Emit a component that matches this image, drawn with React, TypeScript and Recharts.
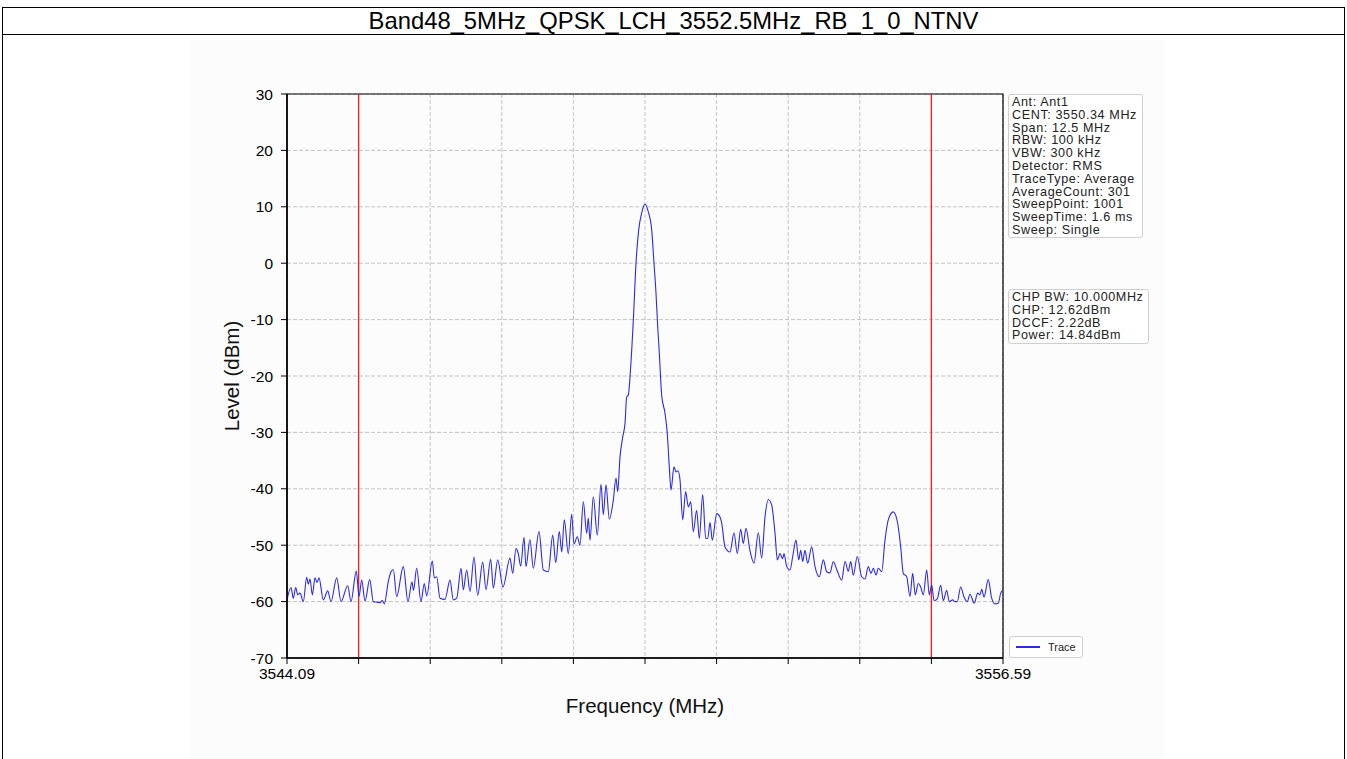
import { LineChart, CartesianGrid, XAxis, YAxis, Line, ReferenceLine, ReferenceArea } from 'recharts'

const TITLE = 'Band48_5MHz_QPSK_LCH_3552.5MHz_RB_1_0_NTNV'

// frequency (MHz) of each trace point
const freqs = [
  3544.09, 3544.16, 3544.2, 3544.242, 3544.277, 3544.317, 3544.375, 3544.434, 3544.462, 3544.492,
  3544.532, 3544.579, 3544.614, 3544.649, 3544.724, 3544.801, 3544.858, 3544.958, 3545.033, 3545.15,
  3545.207, 3545.3, 3545.347, 3545.394, 3545.452, 3545.534, 3545.597, 3545.661, 3545.714, 3545.754,
  3545.789, 3545.859, 3545.906, 3545.946, 3546.005, 3546.12, 3546.202, 3546.272, 3546.298, 3546.354,
  3546.429, 3546.487, 3546.529, 3546.627, 3546.662, 3546.703, 3546.761, 3546.848, 3546.936, 3546.993,
  3547.053, 3547.128, 3547.168, 3547.227, 3547.285, 3547.355, 3547.419, 3547.507, 3547.564, 3547.646,
  3547.692, 3547.768, 3547.861, 3547.983, 3548.03, 3548.088, 3548.128, 3548.17, 3548.228, 3548.262,
  3548.332, 3548.39, 3548.489, 3548.565, 3548.652, 3548.729, 3548.781, 3548.844, 3548.886, 3548.931,
  3549.001, 3549.06, 3549.1, 3549.158, 3549.205, 3549.263, 3549.322, 3549.35, 3549.38, 3549.437,
  3549.507, 3549.572, 3549.612, 3549.659, 3549.717, 3549.787, 3549.834, 3549.863, 3549.904, 3549.951,
  3549.991, 3550.02, 3550.048, 3550.09, 3550.136, 3550.183, 3550.23, 3550.282, 3550.34, 3550.398,
  3550.457, 3550.497, 3550.532, 3550.562, 3550.59, 3550.631, 3550.689, 3550.729, 3550.764, 3550.794,
  3550.846, 3550.881, 3550.916, 3550.951, 3550.998, 3551.05, 3551.096, 3551.138, 3551.183, 3551.242,
  3551.288, 3551.347, 3551.4, 3551.435, 3551.475, 3551.515, 3551.592, 3551.649, 3551.679, 3551.737,
  3551.824, 3551.894, 3551.951, 3552.011, 3552.056, 3552.103, 3552.173, 3552.243, 3552.318, 3552.377,
  3552.435, 3552.493, 3552.552, 3552.61, 3552.65, 3552.697, 3552.744, 3552.767, 3552.814, 3552.871,
  3552.919, 3552.976, 3553.023, 3553.058, 3553.093, 3553.133, 3553.18, 3553.25, 3553.308, 3553.383,
  3553.453, 3553.512, 3553.57, 3553.627, 3553.687, 3553.774, 3553.832, 3553.889, 3553.931, 3553.977,
  3554.046, 3554.123, 3554.181, 3554.238, 3554.285, 3554.326, 3554.373, 3554.413, 3554.472, 3554.53,
  3554.587, 3554.675, 3554.745, 3554.804, 3554.849, 3554.909, 3554.966, 3555.013, 3555.059, 3555.111,
  3555.153, 3555.199, 3555.258, 3555.303, 3555.345, 3555.385, 3555.443, 3555.502, 3555.548, 3555.607,
  3555.652, 3555.712, 3555.752, 3555.792, 3555.851, 3555.909, 3555.967, 3556.014, 3556.089, 3556.148,
  3556.188, 3556.218, 3556.258, 3556.333, 3556.392, 3556.45, 3556.508, 3556.55, 3556.59,
]

// level (dBm) at each of the frequencies above
const levels = [
  -59.7, -57.5, -59.4, -57.5, -58.8, -58.5, -60.0, -55.7, -56.9, -56.0,
  -58.8, -55.8, -56.6, -55.8, -59.7, -58.1, -60.0, -55.8, -60.0, -57.2,
  -60.0, -54.6, -59.1, -56.2, -59.9, -56.1, -60.0, -60.1, -60.2, -59.8,
  -60.4, -56.4, -54.7, -54.3, -59.1, -53.8, -60.0, -56.5, -58.0, -54.1,
  -60.0, -56.8, -59.0, -52.8, -55.8, -55.6, -59.4, -59.6, -56.2, -59.7,
  -59.4, -54.1, -57.9, -54.4, -58.2, -52.1, -58.9, -53.0, -57.9, -52.5,
  -57.6, -52.6, -57.4, -52.3, -55.0, -50.6, -51.5, -53.7, -48.6, -53.8,
  -49.0, -54.1, -47.6, -54.4, -54.7, -48.2, -53.1, -47.6, -51.2, -45.5,
  -51.5, -44.5, -49.8, -48.5, -50.0, -42.3, -47.9, -45.2, -49.1, -41.4,
  -48.2, -39.2, -44.6, -39.3, -45.4, -42.0, -38.1, -40.5, -34.3, -30.8,
  -28.4, -23.7, -23.4, -18.4, -10.1, 0.0, 5.9, 8.9, 10.5, 9.1,
  5.9, 0.0, -5.3, -11.3, -16.0, -23.4, -26.6, -30.2, -36.1, -40.2,
  -36.1, -37.0, -36.8, -38.4, -45.5, -40.5, -43.2, -42.3, -47.6, -43.8,
  -48.8, -41.0, -48.8, -48.8, -46.0, -49.1, -44.4, -45.0, -46.1, -50.3,
  -51.2, -47.8, -51.5, -47.2, -49.7, -47.0, -51.0, -53.2, -47.8, -52.3,
  -45.0, -41.9, -42.9, -47.9, -52.6, -51.5, -52.4, -51.5, -53.8, -54.4,
  -52.0, -49.1, -52.6, -50.9, -52.9, -50.9, -53.2, -50.3, -53.8, -55.6,
  -52.6, -54.7, -54.9, -52.9, -54.3, -56.2, -52.9, -54.6, -52.9, -55.3,
  -52.0, -55.6, -56.0, -53.8, -55.0, -54.1, -55.3, -54.1, -54.7, -49.1,
  -45.5, -44.1, -45.8, -50.3, -55.0, -55.6, -59.1, -55.0, -58.8, -56.8,
  -57.4, -58.8, -54.4, -58.8, -57.0, -59.8, -59.5, -57.1, -59.8, -58.0,
  -60.0, -59.7, -60.0, -60.0, -57.4, -59.2, -60.0, -58.7, -60.3, -58.5,
  -58.8, -57.8, -59.2, -56.1, -59.4, -60.4, -60.3, -58.5, -58.0,
]

const freqTicks = [3544.09, 3545.34, 3546.59, 3547.84, 3549.09, 3550.34, 3551.59, 3552.84, 3554.09, 3555.34, 3556.59]
const levelTicks = [-70, -60, -50, -40, -30, -20, -10, 0, 10, 20, 30]
const chpLimits = [3545.34, 3555.34]

const settingsLines = [
  'Ant: Ant1',
  'CENT: 3550.34 MHz',
  'Span: 12.5 MHz',
  'RBW: 100 kHz',
  'VBW: 300 kHz',
  'Detector: RMS',
  'TraceType: Average',
  'AverageCount: 301',
  'SweepPoint: 1001',
  'SweepTime: 1.6 ms',
  'Sweep: Single',
]
const powerLines = ['CHP BW: 10.000MHz', 'CHP: 12.62dBm', 'DCCF: 2.22dB', 'Power: 14.84dBm']

const FONT = '"Liberation Sans", Arial, sans-serif'

const data = freqs.map((f, i) => ({ freq: f, level: levels[i] }))

const InfoBox = ({ lines, left, top, width, height }: { lines: string[]; left: number; top: number; width: number; height: number }) => (
  <div
    style={{
      position: 'absolute',
      left,
      top,
      width,
      height,
      border: '1px solid #cfcfcf',
      borderRadius: 3,
      background: '#fff',
      padding: '1px 0 0 3px',
      boxSizing: 'border-box',
      fontFamily: FONT,
      fontSize: 12.6,
      lineHeight: '12.8px',
      letterSpacing: 0.6,
      color: '#222',
      whiteSpace: 'nowrap',
      overflow: 'hidden',
    }}
  >
    {lines.map((l) => (
      <div key={l}>{l}</div>
    ))}
  </div>
)

export default function App() {
  return (
    <div style={{ position: 'absolute', left: 0, top: 0, width: 1347, height: 759, background: '#fff', fontFamily: FONT }}>
      {/* faint photo background behind the plot */}
      <div style={{ position: 'absolute', left: 190, top: 40, width: 975, height: 719, background: '#fcfcfc' }} />

      {/* outer frame + title row */}
      <div
        style={{
          position: 'absolute',
          left: 2,
          top: 7,
          width: 1343,
          height: 760,
          border: '1px solid #000',
          boxSizing: 'border-box',
        }}
      />
      <div
        style={{
          position: 'absolute',
          left: 2,
          top: 7,
          width: 1343,
          height: 28,
          borderBottom: '1px solid #000',
          boxSizing: 'border-box',
          textAlign: 'center',
          fontSize: 23.8,
          lineHeight: '27px',
          color: '#000',
        }}
      >
        {TITLE}
      </div>

      <div style={{ position: 'absolute', left: 0, top: 0 }}>
        <LineChart width={1347} height={759} data={data} margin={{ top: 94, left: 227, right: 344, bottom: 71 }}>
          <CartesianGrid stroke="#b5b5b5" strokeDasharray="4 2" strokeWidth={0.8} verticalValues={freqTicks} horizontalValues={levelTicks} />
          <XAxis
            dataKey="freq"
            type="number"
            domain={[3544.09, 3556.59]}
            ticks={freqTicks}
            allowDataOverflow
            height={30}
            tickSize={6}
            tickMargin={4}
            tickLine={{ stroke: '#000' }}
            axisLine={{ stroke: '#000', strokeWidth: 1.5 }}
            interval={0}
            tick={{ fontSize: 15.5, fill: '#000', fontFamily: FONT }}
            tickFormatter={(v: number, i: number) => (i === 0 || i === freqTicks.length - 1 ? v.toFixed(2) : '')}
          />
          <YAxis
            type="number"
            domain={[-70, 30]}
            ticks={levelTicks}
            allowDataOverflow
            width={60}
            tickSize={6}
            tickMargin={8}
            tickLine={{ stroke: '#000' }}
            axisLine={{ stroke: '#000', strokeWidth: 1.5 }}
            interval={0}
            tick={{ fontSize: 15.5, fill: '#000', fontFamily: FONT }}
          />
          <ReferenceArea x1={3544.09} x2={3556.59} y1={-70} y2={30} fill="none" stroke="#000" strokeWidth={1.2} />
          {chpLimits.map((x) => (
            <ReferenceLine key={x} x={x} stroke="#ff1a1a" strokeWidth={1.3} />
          ))}
          <Line type="monotone" dataKey="level" stroke="#2b2be6" strokeWidth={1.1} dot={false} isAnimationActive={false} />
        </LineChart>
      </div>

      {/* axis titles */}
      <div
        style={{
          position: 'absolute',
          left: 232,
          top: 376,
          transform: 'translate(-50%, -50%) rotate(-90deg)',
          fontSize: 20.5,
          color: '#111',
          whiteSpace: 'nowrap',
        }}
      >
        Level (dBm)
      </div>
      <div
        style={{
          position: 'absolute',
          left: 645,
          top: 706,
          transform: 'translate(-50%, -50%)',
          fontSize: 20.5,
          color: '#111',
          whiteSpace: 'nowrap',
        }}
      >
        Frequency (MHz)
      </div>

      <InfoBox lines={settingsLines} left={1008} top={94} width={135} height={144} />
      <InfoBox lines={powerLines} left={1008} top={289} width={141} height={55} />

      {/* legend */}
      <div
        style={{
          position: 'absolute',
          left: 1009,
          top: 636,
          width: 74,
          height: 22,
          border: '1px solid #cfcfcf',
          borderRadius: 3,
          background: '#fff',
          boxSizing: 'border-box',
          display: 'flex',
          alignItems: 'center',
          fontSize: 11,
          color: '#222',
        }}
      >
        <span style={{ display: 'inline-block', width: 24, height: 0, borderTop: '2px solid #2b2be6', margin: '0 8px 0 6px' }} />
        Trace
      </div>
    </div>
  )
}
